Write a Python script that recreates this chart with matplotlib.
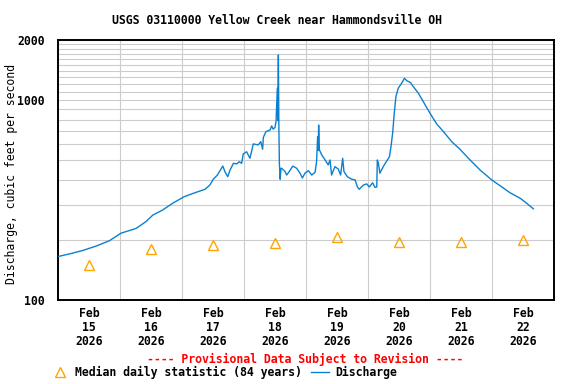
import numpy as np
import pandas as pd
import matplotlib
matplotlib.use('Agg')
import matplotlib.pyplot as plt
import matplotlib.dates as mdates
from matplotlib.ticker import FixedLocator, NullFormatter, FixedFormatter

# discharge, hours after 2026-02-15 00:00 and cfs
hours = [0, 4.4, 9.6, 14.7, 19.9, 24.4, 30.2, 34.1, 36.7, 40.5, 44.4, 48.9, 52.4,
         56.9, 58.8, 60.1, 61.7, 63.8, 64.6, 65.7, 66.6, 67.9, 69.2, 70.2, 71.1,
         71.7, 73.0, 74.3, 75.6, 77.5, 78.5, 79.2, 79.5, 80.5, 82.1, 82.7, 83.3,
         84.0, 84.4, 84.9, 85.1, 85.3, 85.5, 85.7, 86.0, 86.3, 86.6, 87.9, 88.5,
         89.5, 90.9, 92.4, 93.7, 94.6, 95.6, 96.9, 98.2, 99.5, 100.1, 100.5,
         100.7, 100.9, 101.2, 102.1, 103.4, 104.6, 105.3, 105.9, 107.2, 108.5,
         109.4, 110.2, 110.7, 112.0, 113.7, 115.0, 115.9, 116.6, 118.2, 119.5,
         120.5, 121.8, 122.7, 123.4, 123.6, 124.0, 124.6, 125.9, 127.5, 128.3,
         128.9, 129.6, 130.1, 130.8, 131.7, 133.0, 134.1, 135.0, 136.5, 137.5,
         139.5, 141.4, 144.0, 146.6, 149.2, 152.4, 155.6, 159.5, 163.4, 167.9,
         171.8, 175.0, 178.9, 181.4, 184.0]
cfs = [165, 170, 177, 186, 198, 216, 228, 247, 266, 282, 305, 329, 342,
       358, 376, 402, 422, 468, 439, 414, 447, 483, 480, 492, 483,
       538, 552, 512, 604, 597, 620, 568, 652, 696, 709, 743, 716,
       730, 781, 1147, 790, 1683, 723, 483, 402, 456, 456, 439, 422,
       439, 468, 456, 431, 408, 431, 444, 422, 435, 492, 657,
       560, 751, 563, 532, 502, 474, 502, 422, 465, 452,
       422, 512, 439, 414, 402, 399, 368, 358, 376, 381,
       368, 386, 366, 368, 502, 486, 431, 465, 502, 521,
       585, 696, 843, 1041, 1147, 1215, 1286, 1252, 1223, 1170,
       1083, 983, 860, 760, 696, 620, 568, 502, 447, 399,
       368, 344, 323, 305, 286]

median_days = ['2026-02-15', '2026-02-16', '2026-02-17', '2026-02-18',
               '2026-02-19', '2026-02-20', '2026-02-21', '2026-02-22']
median_cfs = [150, 181, 188, 192, 206, 196, 196, 200]

yticks = [100, 1000, 2000]
ygrid = [v for v in range(200, 2000, 100) if v != 1000]

plt.rcParams['font.family'] = 'DejaVu Sans Mono'
plt.rcParams['font.weight'] = 'bold'
plt.rcParams['font.size'] = 8.3

fig = plt.figure(figsize=(5.76, 3.84), dpi=100)
ax = fig.add_axes([58/576, 1-300/384, 496/576, 260/384])

t0 = pd.Timestamp('2026-02-15')
times = t0 + pd.to_timedelta(hours, unit='h')
med_times = pd.to_datetime(median_days) + pd.Timedelta(hours=12)

ln_q, = ax.plot(times, cfs, color='#0b80d0', lw=1.0, zorder=3)
ln_m, = ax.plot(med_times, median_cfs, ls='none', marker='^', ms=7,
                mfc='none', mec='#ffa500', mew=1.0, zorder=4)

ax.set_yscale('log')
ax.set_ylim(100, 2000)
ax.yaxis.set_major_locator(FixedLocator(yticks))
ax.yaxis.set_major_formatter(FixedFormatter([str(v) for v in yticks]))
ax.yaxis.set_minor_locator(FixedLocator(ygrid))
ax.yaxis.set_minor_formatter(NullFormatter())

ax.set_xlim(t0, t0 + pd.Timedelta(days=8))
ax.xaxis.set_major_locator(mdates.HourLocator(byhour=[12]))
ax.xaxis.set_major_formatter(mdates.DateFormatter('%b\n%d\n%Y'))
ax.xaxis.set_minor_locator(mdates.DayLocator())

ax.grid(True, which='both', axis='y', color='#cccccc', lw=0.8)
ax.grid(True, which='minor', axis='x', color='#cccccc', lw=0.8)
ax.set_axisbelow(True)
ax.tick_params(which='both', length=0)
ax.tick_params(axis='y', pad=9.5)
ax.tick_params(axis='x', pad=5)
for lab in ax.get_xticklabels():
    lab.set_linespacing(1.1)
for s in ax.spines.values():
    s.set_linewidth(1.4)

ax.set_ylabel('Discharge, cubic feet per second')
ax.yaxis.set_label_coords(-0.08, 0.483)

fig.text(277/576, 1-20/384, 'USGS 03110000 Yellow Creek near Hammondsville OH',
         ha='center', va='center')
fig.text(305/576, 1-359/384, '---- Provisional Data Subject to Revision ----',
         ha='center', va='center', color='red')

fig.legend([ln_m, ln_q], ['Median daily statistic (84 years)', 'Discharge'],
           loc='center left', bbox_to_anchor=(51.4/576, 1-372.7/384), ncol=2,
           frameon=False, borderpad=0, borderaxespad=0, handlelength=1.5,
           handletextpad=0.55, columnspacing=0.81, numpoints=1)

fig.savefig('out.png', dpi=100)
